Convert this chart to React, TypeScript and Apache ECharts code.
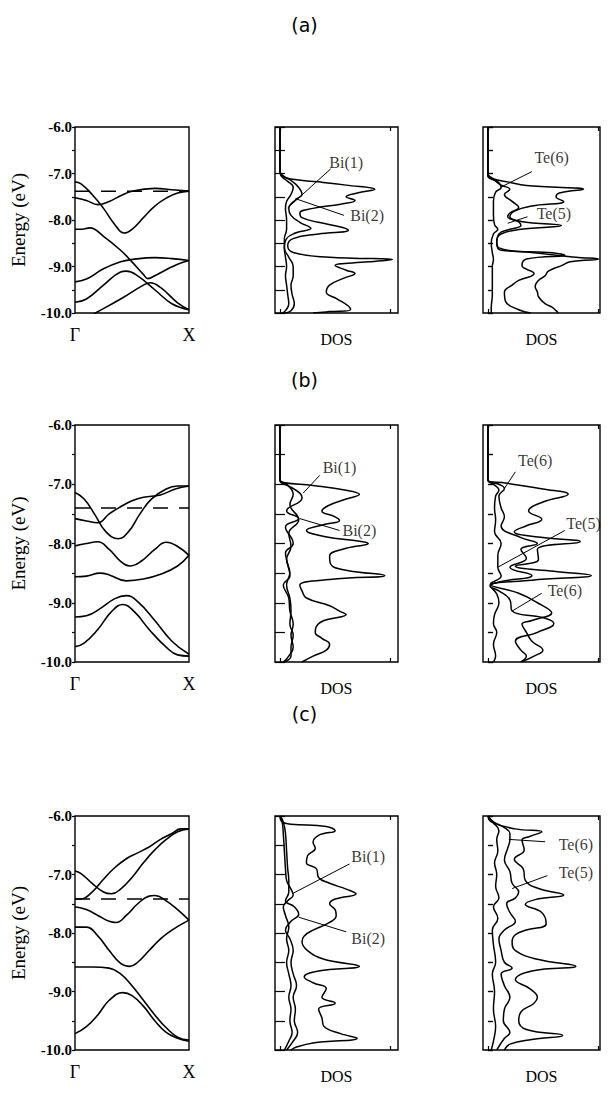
import React, { useEffect, useRef } from "react";
import * as echarts from "echarts";

// ---- captions and axis text ----
const panelTitles = ["(a)", "(b)", "(c)"];
const kPointLabels = ["Γ", "X"];
const energyAxisName = "Energy (eV)";
const dosAxisName = "DOS";
const energyMin = -10;
const energyMax = -6;

// ---- band structures, Γ (k = 0) to X (k = 1): [k, E] ----
const bandA1 = [[0, -7.18], [0.05, -7.22], [0.15, -7.45], [0.25, -7.75], [0.35, -8.1], [0.43, -8.28], [0.5, -8.2], [0.6, -7.95], [0.7, -7.7], [0.8, -7.53], [0.9, -7.42], [1, -7.38]];
const bandA2 = [[0, -7.52], [0.1, -7.58], [0.2, -7.67], [0.3, -7.6], [0.4, -7.48], [0.5, -7.38], [0.7, -7.32], [0.85, -7.35], [1, -7.38]];
const bandA3 = [[0, -8.2], [0.06, -8.2], [0.13, -8.17], [0.25, -8.35], [0.4, -8.65], [0.5, -8.9], [0.6, -9.17], [0.64, -9.26], [0.7, -9.2], [0.8, -9.07], [0.9, -8.95], [1, -8.87]];
const bandA4 = [[0, -9.33], [0.1, -9.27], [0.25, -9.05], [0.4, -8.9], [0.5, -8.85], [0.7, -8.81], [0.85, -8.83], [1, -8.87]];
const bandA5 = [[0, -9.77], [0.1, -9.7], [0.25, -9.4], [0.4, -9.12], [0.45, -9.1], [0.55, -9.2], [0.7, -9.5], [0.85, -9.8], [1, -9.93]];
const bandA6 = [[0, -10.25], [0.18, -10.0], [0.4, -9.7], [0.6, -9.4], [0.66, -9.35], [0.75, -9.45], [0.9, -9.78], [1, -9.93]];

const bandB1 = [[0, -7.14], [0.08, -7.25], [0.17, -7.5], [0.27, -7.8], [0.38, -7.92], [0.47, -7.8], [0.57, -7.5], [0.67, -7.25], [0.8, -7.08], [0.9, -7.03], [1, -7.03]];
const bandB2 = [[0, -7.58], [0.1, -7.62], [0.2, -7.65], [0.3, -7.5], [0.4, -7.38], [0.5, -7.28], [0.6, -7.22], [0.75, -7.18], [0.88, -7.08], [1, -7.03]];
const bandB3 = [[0, -8.04], [0.1, -8.0], [0.2, -7.97], [0.3, -8.1], [0.4, -8.3], [0.48, -8.38], [0.58, -8.3], [0.7, -8.1], [0.8, -7.98], [0.9, -8.05], [1, -8.2]];
const bandB4 = [[0, -8.56], [0.1, -8.55], [0.22, -8.5], [0.3, -8.53], [0.45, -8.63], [0.6, -8.6], [0.75, -8.52], [0.9, -8.38], [1, -8.2]];
const bandB5 = [[0, -9.24], [0.1, -9.22], [0.22, -9.1], [0.35, -8.93], [0.45, -8.88], [0.55, -8.98], [0.7, -9.3], [0.85, -9.65], [1, -9.87]];
const bandB6 = [[0, -9.74], [0.08, -9.68], [0.2, -9.45], [0.32, -9.15], [0.42, -9.03], [0.52, -9.15], [0.65, -9.45], [0.8, -9.75], [0.9, -9.88], [1, -9.9]];

const bandC1 = [[0, -6.94], [0.05, -6.98], [0.15, -7.15], [0.25, -7.3], [0.32, -7.33], [0.4, -7.25], [0.5, -7.05], [0.6, -6.8], [0.7, -6.58], [0.8, -6.4], [0.9, -6.27], [1, -6.22]];
const bandC2 = [[0, -7.42], [0.05, -7.42], [0.15, -7.3], [0.25, -7.08], [0.35, -6.88], [0.45, -6.73], [0.55, -6.63], [0.65, -6.53], [0.75, -6.4], [0.85, -6.3], [0.93, -6.22], [1, -6.22]];
const bandC3 = [[0, -7.55], [0.1, -7.6], [0.2, -7.7], [0.3, -7.8], [0.36, -7.82], [0.45, -7.7], [0.55, -7.5], [0.65, -7.37], [0.7, -7.36], [0.8, -7.45], [0.9, -7.6], [1, -7.78]];
const bandC4 = [[0, -7.9], [0.1, -7.9], [0.2, -8.05], [0.3, -8.3], [0.4, -8.52], [0.48, -8.57], [0.55, -8.5], [0.65, -8.3], [0.75, -8.1], [0.85, -7.95], [1, -7.78]];
const bandC5 = [[0, -8.58], [0.15, -8.58], [0.3, -8.6], [0.4, -8.7], [0.5, -8.9], [0.6, -9.15], [0.7, -9.4], [0.8, -9.62], [0.9, -9.78], [1, -9.83]];
const bandC6 = [[0, -9.72], [0.1, -9.6], [0.2, -9.4], [0.3, -9.15], [0.42, -9.02], [0.5, -9.07], [0.6, -9.25], [0.7, -9.5], [0.8, -9.7], [0.9, -9.8], [1, -9.85]];

// Fermi levels (dashed)
const fermiA = -7.38;
const fermiB = -7.4;
const fermiC = -7.42;

// ---- densities of states: [E, DOS] ----
const dosA_total = [[-6, 0], [-6.95, 0], [-7.05, 0.02], [-7.12, 0.1], [-7.18, 0.35], [-7.25, 0.6], [-7.34, 0.86], [-7.42, 0.7], [-7.5, 0.6], [-7.58, 0.68], [-7.66, 0.55], [-7.75, 0.3], [-7.85, 0.18], [-7.95, 0.2], [-8.05, 0.35], [-8.15, 0.55], [-8.22, 0.62], [-8.3, 0.35], [-8.4, 0.12], [-8.55, 0.07], [-8.7, 0.12], [-8.8, 0.45], [-8.85, 1.02], [-8.9, 0.8], [-8.98, 0.5], [-9.08, 0.6], [-9.15, 0.68], [-9.25, 0.58], [-9.4, 0.45], [-9.55, 0.42], [-9.7, 0.52], [-9.85, 0.62], [-9.93, 0.64], [-9.97, 0.45], [-10, 0.3]];
const dosA_bi1 = [[-6, 0], [-6.95, 0], [-7.05, 0.01], [-7.15, 0.06], [-7.3, 0.12], [-7.45, 0.1], [-7.6, 0.06], [-7.75, 0.05], [-8.0, 0.06], [-8.2, 0.06], [-8.4, 0.04], [-8.6, 0.04], [-8.8, 0.05], [-9.0, 0.06], [-9.2, 0.05], [-9.4, 0.06], [-9.6, 0.07], [-9.8, 0.08], [-9.95, 0.05], [-10, 0.02]];
const dosA_bi2 = [[-6, 0], [-6.95, 0], [-7.05, 0.03], [-7.15, 0.1], [-7.3, 0.17], [-7.45, 0.2], [-7.55, 0.15], [-7.75, 0.08], [-7.9, 0.1], [-8.05, 0.18], [-8.18, 0.28], [-8.28, 0.14], [-8.4, 0.06], [-8.6, 0.04], [-8.8, 0.08], [-9.0, 0.12], [-9.2, 0.12], [-9.4, 0.1], [-9.6, 0.11], [-9.8, 0.13], [-9.95, 0.1], [-10, 0.04]];
const dosA_total2 = [[-6, 0], [-7.05, 0], [-7.12, 0.05], [-7.18, 0.18], [-7.26, 0.35], [-7.34, 0.87], [-7.42, 0.65], [-7.5, 0.62], [-7.6, 0.69], [-7.7, 0.4], [-7.8, 0.25], [-7.93, 0.2], [-8.03, 0.3], [-8.12, 0.67], [-8.2, 0.3], [-8.3, 0.12], [-8.45, 0.08], [-8.6, 0.1], [-8.7, 0.4], [-8.8, 0.8], [-8.84, 1.01], [-8.9, 0.75], [-8.98, 0.67], [-9.1, 0.55], [-9.2, 0.52], [-9.3, 0.46], [-9.43, 0.43], [-9.55, 0.45], [-9.65, 0.46], [-9.8, 0.52], [-9.87, 0.58], [-9.95, 0.62], [-10, 0.64]];
const dosA_te5 = [[-6, 0], [-7.05, 0], [-7.15, 0.06], [-7.25, 0.12], [-7.34, 0.2], [-7.45, 0.15], [-7.6, 0.22], [-7.73, 0.28], [-7.85, 0.2], [-7.93, 0.18], [-8.04, 0.28], [-8.12, 0.3], [-8.2, 0.2], [-8.3, 0.1], [-8.5, 0.08], [-8.65, 0.12], [-8.7, 0.55], [-8.76, 0.7], [-8.84, 0.35], [-8.98, 0.31], [-9.15, 0.42], [-9.3, 0.28], [-9.4, 0.22], [-9.55, 0.15], [-9.75, 0.16], [-9.93, 0.28], [-10, 0.39]];
const dosA_te6 = [[-6, 0], [-7.0, 0], [-7.1, 0.04], [-7.2, 0.1], [-7.3, 0.12], [-7.4, 0.07], [-7.6, 0.05], [-7.9, 0.05], [-8.1, 0.06], [-8.2, 0.09], [-8.3, 0.05], [-8.5, 0.03], [-8.7, 0.04], [-8.85, 0.05], [-9.0, 0.04], [-9.3, 0.04], [-9.6, 0.04], [-9.9, 0.03], [-10, 0.03]];

const dosB_total = [[-6, 0], [-6.92, 0], [-6.97, 0.03], [-7.02, 0.3], [-7.1, 0.6], [-7.17, 0.72], [-7.25, 0.6], [-7.35, 0.45], [-7.45, 0.38], [-7.55, 0.5], [-7.61, 0.54], [-7.68, 0.4], [-7.78, 0.24], [-7.88, 0.4], [-7.97, 0.75], [-8.0, 0.8], [-8.08, 0.6], [-8.21, 0.45], [-8.35, 0.46], [-8.45, 0.6], [-8.54, 0.95], [-8.6, 0.5], [-8.7, 0.18], [-8.8, 0.2], [-8.92, 0.24], [-9.05, 0.45], [-9.14, 0.54], [-9.2, 0.6], [-9.3, 0.4], [-9.4, 0.33], [-9.5, 0.32], [-9.6, 0.38], [-9.7, 0.45], [-9.8, 0.42], [-9.9, 0.3], [-10, 0.2]];
const dosB_bi1 = [[-6, 0], [-6.93, 0], [-7.04, 0.09], [-7.15, 0.18], [-7.23, 0.2], [-7.45, 0.06], [-7.58, 0.17], [-7.72, 0.05], [-8.0, 0.12], [-8.16, 0.05], [-8.35, 0.07], [-8.55, 0.09], [-8.7, 0.03], [-8.92, 0.08], [-9.14, 0.09], [-9.36, 0.12], [-9.55, 0.1], [-9.75, 0.12], [-9.9, 0.08], [-10, 0.03]];
const dosB_bi2 = [[-6, 0], [-6.93, 0], [-7.0, 0.06], [-7.17, 0.12], [-7.34, 0.09], [-7.6, 0.17], [-7.83, 0.08], [-8.05, 0.1], [-8.27, 0.06], [-8.49, 0.09], [-8.7, 0.06], [-8.92, 0.09], [-9.14, 0.1], [-9.36, 0.09], [-9.55, 0.12], [-9.75, 0.1], [-9.9, 0.1], [-10, 0.04]];
const dosB_total2 = [[-6, 0], [-6.93, 0], [-6.98, 0.16], [-7.08, 0.5], [-7.17, 0.73], [-7.3, 0.5], [-7.45, 0.37], [-7.59, 0.49], [-7.7, 0.35], [-7.8, 0.24], [-7.9, 0.5], [-7.97, 0.84], [-8.1, 0.45], [-8.27, 0.46], [-8.38, 0.25], [-8.47, 0.6], [-8.54, 0.94], [-8.62, 0.4], [-8.7, 0.03], [-8.84, 0.28], [-9.0, 0.45], [-9.17, 0.58], [-9.3, 0.4], [-9.36, 0.31], [-9.5, 0.35], [-9.65, 0.4], [-9.8, 0.5], [-9.9, 0.42], [-10, 0.3]];
const dosB_te6 = [[-6, 0], [-6.93, 0], [-7.0, 0.1], [-7.07, 0.15], [-7.2, 0.1], [-7.4, 0.12], [-7.55, 0.15], [-7.7, 0.12], [-7.9, 0.3], [-8.0, 0.45], [-8.1, 0.3], [-8.25, 0.35], [-8.4, 0.2], [-8.54, 0.4], [-8.65, 0.1], [-8.72, 0.02], [-8.8, 0.1], [-8.95, 0.2], [-9.14, 0.22], [-9.25, 0.5], [-9.35, 0.6], [-9.5, 0.45], [-9.65, 0.25], [-9.8, 0.3], [-9.9, 0.35], [-10, 0.3]];
const dosB_te5 = [[-6, 0], [-6.93, 0], [-7.0, 0.05], [-7.1, 0.1], [-7.2, 0.07], [-7.4, 0.06], [-7.6, 0.07], [-7.8, 0.06], [-8.0, 0.12], [-8.2, 0.09], [-8.4, 0.09], [-8.55, 0.12], [-8.7, 0.02], [-8.85, 0.08], [-9.0, 0.1], [-9.2, 0.06], [-9.35, 0.05], [-9.5, 0.08], [-9.7, 0.05], [-9.9, 0.07], [-10, 0.05]];

const dosC_total = [[-6, 0], [-6.1, 0.02], [-6.14, 0.1], [-6.18, 0.42], [-6.25, 0.5], [-6.33, 0.35], [-6.45, 0.3], [-6.55, 0.32], [-6.68, 0.25], [-6.8, 0.24], [-6.9, 0.33], [-7.05, 0.35], [-7.15, 0.45], [-7.25, 0.6], [-7.33, 0.69], [-7.42, 0.5], [-7.5, 0.45], [-7.6, 0.5], [-7.7, 0.51], [-7.82, 0.45], [-7.95, 0.3], [-8.05, 0.22], [-8.15, 0.2], [-8.3, 0.25], [-8.45, 0.4], [-8.57, 0.72], [-8.65, 0.35], [-8.75, 0.22], [-8.85, 0.3], [-8.95, 0.42], [-9.1, 0.38], [-9.2, 0.5], [-9.3, 0.35], [-9.45, 0.38], [-9.6, 0.4], [-9.72, 0.55], [-9.8, 0.7], [-9.88, 0.3], [-9.95, 0.15], [-10, 0.1]];
const dosC_bi1 = [[-6, 0], [-6.1, 0.02], [-6.3, 0.03], [-6.6, 0.04], [-6.9, 0.05], [-7.1, 0.06], [-7.25, 0.1], [-7.35, 0.12], [-7.45, 0.07], [-7.55, 0.03], [-7.7, 0.05], [-7.9, 0.08], [-8.1, 0.06], [-8.3, 0.08], [-8.5, 0.06], [-8.7, 0.08], [-8.9, 0.1], [-9.1, 0.08], [-9.3, 0.1], [-9.5, 0.09], [-9.7, 0.11], [-9.85, 0.08], [-10, 0.04]];
const dosC_bi2 = [[-6, 0], [-6.1, 0.03], [-6.3, 0.05], [-6.6, 0.06], [-6.9, 0.07], [-7.1, 0.08], [-7.3, 0.08], [-7.45, 0.05], [-7.55, 0.13], [-7.68, 0.17], [-7.8, 0.1], [-7.95, 0.05], [-8.1, 0.09], [-8.3, 0.12], [-8.5, 0.1], [-8.7, 0.12], [-8.9, 0.15], [-9.1, 0.12], [-9.3, 0.14], [-9.5, 0.13], [-9.7, 0.16], [-9.85, 0.12], [-10, 0.06]];
const dosC_total2 = [[-6, 0], [-6.1, 0.03], [-6.22, 0.25], [-6.27, 0.49], [-6.35, 0.38], [-6.41, 0.31], [-6.58, 0.33], [-6.74, 0.24], [-6.9, 0.32], [-7.1, 0.34], [-7.24, 0.46], [-7.35, 0.69], [-7.42, 0.45], [-7.51, 0.34], [-7.65, 0.49], [-7.84, 0.53], [-7.95, 0.35], [-8.03, 0.25], [-8.15, 0.22], [-8.3, 0.25], [-8.45, 0.45], [-8.57, 0.8], [-8.65, 0.4], [-8.8, 0.25], [-8.95, 0.38], [-9.1, 0.45], [-9.2, 0.42], [-9.35, 0.3], [-9.5, 0.28], [-9.65, 0.35], [-9.75, 0.68], [-9.82, 0.4], [-9.9, 0.2], [-10, 0.15]];
const dosC_te6 = [[-6, 0], [-6.1, 0.05], [-6.2, 0.15], [-6.3, 0.2], [-6.4, 0.2], [-6.55, 0.18], [-6.75, 0.15], [-6.95, 0.2], [-7.15, 0.22], [-7.3, 0.28], [-7.4, 0.25], [-7.5, 0.17], [-7.65, 0.2], [-7.8, 0.25], [-7.95, 0.15], [-8.1, 0.1], [-8.3, 0.12], [-8.5, 0.15], [-8.6, 0.22], [-8.7, 0.12], [-8.9, 0.15], [-9.1, 0.2], [-9.3, 0.15], [-9.5, 0.14], [-9.7, 0.2], [-9.8, 0.15], [-10, 0.08]];
const dosC_te5 = [[-6, 0], [-6.1, 0.04], [-6.25, 0.1], [-6.4, 0.08], [-6.6, 0.09], [-6.8, 0.06], [-7.0, 0.08], [-7.2, 0.07], [-7.4, 0.1], [-7.55, 0.05], [-7.75, 0.09], [-7.95, 0.04], [-8.2, 0.05], [-8.5, 0.07], [-8.7, 0.04], [-9.0, 0.06], [-9.3, 0.05], [-9.6, 0.07], [-9.85, 0.05], [-10, 0.03]];

// ---- site labels with leader lines: text centre, leader start, leader end ([DOS, E]) ----
const labelsA1 = [
  { text: "Bi(1)", at: [0.6, -6.76], from: [0.46, -6.9], to: [0.07, -7.74] },
  { text: "Bi(2)", at: [0.79, -7.9], from: [0.58, -7.9], to: [0.14, -7.54] },
];
const labelsA2 = [
  { text: "Te(6)", at: [0.58, -6.66], from: [0.4, -6.96], to: [0.12, -7.29] },
  { text: "Te(5)", at: [0.6, -7.87], from: [0.36, -7.93], to: [0.18, -8.07] },
];
const labelsB1 = [
  { text: "Bi(1)", at: [0.54, -6.71], from: [0.36, -6.85], to: [0.21, -7.15] },
  { text: "Bi(2)", at: [0.72, -7.78], from: [0.54, -7.78], to: [0.18, -7.58] },
];
const labelsB2 = [
  { text: "Te(6)", at: [0.43, -6.6], from: [0.25, -6.79], to: [0.15, -7.07] },
  { text: "Te(5)", at: [0.87, -7.67], from: [0.7, -7.78], to: [0.09, -8.4] },
  { text: "Te(6)", at: [0.7, -8.79], from: [0.49, -8.84], to: [0.22, -9.14] },
];
const labelsC1 = [
  { text: "Bi(1)", at: [0.8, -6.69], from: [0.63, -6.82], to: [0.12, -7.32] },
  { text: "Bi(2)", at: [0.8, -8.09], from: [0.6, -7.98], to: [0.17, -7.73] },
];
const labelsC2 = [
  { text: "Te(6)", at: [0.8, -6.49], from: [0.52, -6.44], to: [0.19, -6.4] },
  { text: "Te(5)", at: [0.8, -6.96], from: [0.54, -7.02], to: [0.22, -7.24] },
];

const rowsData = [
  { bands: [bandA1, bandA2, bandA3, bandA4, bandA5, bandA6], fermi: fermiA, dos1: [dosA_total, dosA_bi1, dosA_bi2], dos2: [dosA_total2, dosA_te5, dosA_te6], labels1: labelsA1, labels2: labelsA2 },
  { bands: [bandB1, bandB2, bandB3, bandB4, bandB5, bandB6], fermi: fermiB, dos1: [dosB_total, dosB_bi1, dosB_bi2], dos2: [dosB_total2, dosB_te6, dosB_te5], labels1: labelsB1, labels2: labelsB2 },
  { bands: [bandC1, bandC2, bandC3, bandC4, bandC5, bandC6], fermi: fermiC, dos1: [dosC_total, dosC_bi1, dosC_bi2], dos2: [dosC_total2, dosC_te6, dosC_te5], labels1: labelsC1, labels2: labelsC2 },
];

// ---- layout ----
const W = 609;
const H = 1097;
const rowBoxes = [
  { top: 127, height: 186, titleY: 25 },
  { top: 425, height: 237, titleY: 380 },
  { top: 816, height: 234, titleY: 714 },
];
const colBoxes = [
  { left: 75, width: 114 },
  { left: 275, width: 123, dosMax: 1.07 },
  { left: 483, width: 117, dosMax: 1.02 },
];
const dosMin = -0.045;

const SERIF = "'Liberation Serif', 'Times New Roman', serif";
const SANS = "'DejaVu Sans', 'Noto Sans', sans-serif";
const INK = "#000";

function buildOption() {
  const grid: any[] = [];
  const xAxis: any[] = [];
  const yAxis: any[] = [];
  const series: any[] = [];
  const graphic: any[] = [];

  rowBoxes.forEach((rb, r) => {
    graphic.push({
      type: "text",
      x: W / 2,
      y: rb.titleY,
      style: { text: panelTitles[r], fontSize: 19, fontFamily: SANS, fill: INK, textAlign: "center", textVerticalAlign: "middle" },
    });
    const rd = rowsData[r];

    colBoxes.forEach((cb, c) => {
      const gi = grid.length;
      grid.push({
        left: cb.left, top: rb.top, width: cb.width, height: rb.height,
        show: true, borderColor: INK, borderWidth: 1.4, backgroundColor: "transparent",
      });
      const isBand = c === 0;
      const xi = xAxis.length;
      const yi = yAxis.length;

      if (isBand) {
        xAxis.push({
          gridIndex: gi, type: "value", min: 0, max: 1,
          axisLine: { show: false }, splitLine: { show: false }, axisTick: { show: false },
          axisLabel: {
            customValues: [0, 1],
            formatter: (v: number) => (v === 0 ? kPointLabels[0] : kPointLabels[1]),
            fontFamily: SERIF, fontSize: 18, color: INK, margin: 13,
          },
        });
        yAxis.push({
          gridIndex: gi, type: "value", min: energyMin, max: energyMax, interval: 0.5,
          name: energyAxisName, nameLocation: "middle", nameRotate: 90, nameGap: 47,
          nameTextStyle: { fontFamily: SERIF, fontSize: 19, color: INK },
          axisLine: { show: false }, splitLine: { show: false },
          axisTick: { show: true, inside: false, length: 3, lineStyle: { color: INK, width: 1.2 } },
          axisLabel: {
            formatter: (v: number) => (Math.abs(v - Math.round(v)) < 1e-6 ? v.toFixed(1) : ""),
            fontFamily: SERIF, fontSize: 15, fontWeight: "bold", color: INK, margin: 3,
          },
        });
      } else {
        xAxis.push({
          gridIndex: gi, type: "value", min: dosMin, max: cb.dosMax,
          name: dosAxisName, nameLocation: "middle", nameGap: 18,
          nameTextStyle: { fontFamily: SERIF, fontSize: 16, color: INK },
          axisLine: { show: false }, splitLine: { show: false }, axisLabel: { show: false },
          axisTick: { show: true, inside: true, customValues: [0, 1], length: 4, lineStyle: { color: INK, width: 1.2 } },
        });
        xAxis.push({
          gridIndex: gi, type: "value", min: dosMin, max: cb.dosMax, position: "top",
          axisLine: { show: false }, splitLine: { show: false }, axisLabel: { show: false },
          axisTick: { show: true, inside: true, customValues: [0, 1], length: 4, lineStyle: { color: INK, width: 1.2 } },
        });
        yAxis.push({
          gridIndex: gi, type: "value", min: energyMin, max: energyMax, interval: 0.5,
          axisLine: { show: false }, splitLine: { show: false }, axisLabel: { show: false },
          axisTick: { show: true, inside: true, length: 5, lineStyle: { color: INK, width: 1.2 } },
        });
        yAxis.push({
          gridIndex: gi, type: "value", min: energyMin, max: energyMax, interval: 0.5, position: "right",
          axisLine: { show: false }, splitLine: { show: false }, axisLabel: { show: false },
          axisTick: { show: true, inside: c === 1, length: 5, lineStyle: { color: INK, width: 1.2 } },
        });
      }

      const lineBase = {
        type: "line", xAxisIndex: xi, yAxisIndex: yi, showSymbol: false, symbol: "none",
        silent: true, clip: true,
      };

      if (isBand) {
        rd.bands.forEach((b) => {
          series.push({ ...lineBase, smooth: 0.45, data: b, lineStyle: { color: INK, width: 1.6 } });
        });
        series.push({
          ...lineBase, smooth: false,
          data: [[0, rd.fermi], [1, rd.fermi]],
          lineStyle: { color: INK, width: 1.5, type: [15, 11] },
        });
      } else {
        const curves = c === 1 ? rd.dos1 : rd.dos2;
        curves.forEach((cv) => {
          series.push({
            ...lineBase, smooth: 0.45,
            data: cv.map(([e, d]) => [d, e]),
            lineStyle: { color: INK, width: 1.5 },
          });
        });
        const labels = c === 1 ? rd.labels1 : rd.labels2;
        labels.forEach((lb) => {
          series.push({
            ...lineBase, smooth: false, data: [lb.from, lb.to],
            lineStyle: { color: INK, width: 1 },
          });
        });
        series.push({
          type: "scatter", xAxisIndex: xi, yAxisIndex: yi, silent: true,
          symbol: "circle", symbolSize: 1, itemStyle: { color: "rgba(0,0,0,0)" },
          data: labels.map((lb) => ({
            value: lb.at,
            label: {
              show: true, formatter: lb.text, position: "inside",
              fontFamily: SERIF, fontSize: 16, color: INK,
            },
          })),
        });
      }
    });
  });

  return {
    animation: false,
    backgroundColor: "#fff",
    grid, xAxis, yAxis, series, graphic,
  };
}

export default function App() {
  const ref = useRef<HTMLDivElement | null>(null);
  useEffect(() => {
    if (!ref.current) return;
    const chart = echarts.init(ref.current, null, { renderer: "svg" });
    chart.setOption(buildOption() as any);
    return () => chart.dispose();
  }, []);
  return (
    <div
      ref={ref}
      style={{ position: "fixed", left: 0, top: 0, width: W, height: H, background: "#fff" }}
    />
  );
}
